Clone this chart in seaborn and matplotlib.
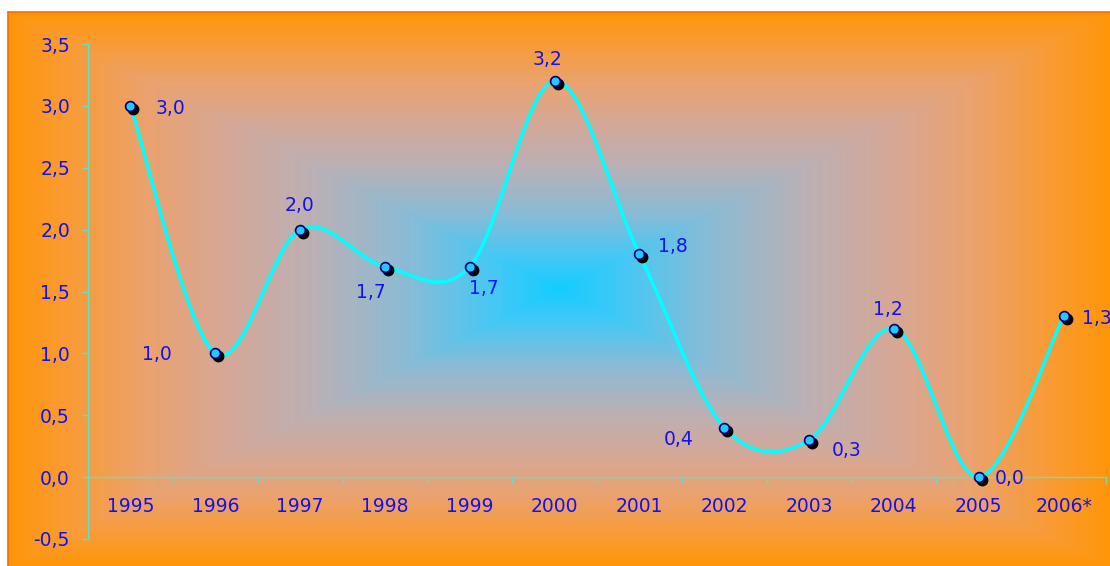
import numpy as np
import pandas as pd
import matplotlib
matplotlib.use("Agg")
import matplotlib.pyplot as plt
from matplotlib.colors import LinearSegmentedColormap
from matplotlib.transforms import offset_copy
import seaborn as sns

# ---------------- data ----------------
years = ["1995", "1996", "1997", "1998", "1999", "2000",
         "2001", "2002", "2003", "2004", "2005", "2006*"]
values = [3.0, 1.0, 2.0, 1.7, 1.7, 3.2, 1.8, 0.4, 0.3, 1.2, 0.0, 1.3]
y_ticks = [-0.5, 0.0, 0.5, 1.0, 1.5, 2.0, 2.5, 3.0, 3.5]

# label offsets (pixels) - style only
label_offsets = [(40, -3), (-58, -1), (-1, 24), (-14, -26), (14, -22), (-7, 22),
                 (33, 8), (-46, -12), (38, -11), (-6, 19), (31, -1), (33, -2)]

sns.set_style("white")
plt.rcParams["font.family"] = ["DejaVu Sans"]

W, H, DPI = 1110, 566, 100
fig = plt.figure(figsize=(W / DPI, H / DPI), dpi=DPI, facecolor="white")

# ---------------- background gradient (chart area) ----------------
x0, ytop = 8, 12
bg = fig.add_axes([x0 / W, 0, (W - x0) / W, (H - ytop) / H])
bw, bh = W - x0, H - ytop
xx = np.abs(np.linspace(-1, 1, bw))[None, :]
yy = np.abs(np.linspace(-1, 1, bh))[:, None]
t = np.maximum(xx, yy)
stops = [(0.0, (20, 205, 255)), (0.12, (70, 200, 245)), (0.28, (140, 187, 212)),
         (0.45, (188, 176, 180)), (0.6, (213, 168, 152)), (0.75, (235, 162, 110)),
         (0.9, (250, 155, 50)), (1.0, (255, 150, 10))]
cmap = LinearSegmentedColormap.from_list(
    "grad", [(p, tuple(c / 255 for c in col)) for p, col in stops])
bg.imshow(t, cmap=cmap, vmin=0, vmax=1, aspect="auto", interpolation="bilinear")
bg.set_axis_off()
# border lines (left and top)
fig.add_artist(plt.Line2D([x0 / W, x0 / W], [0, (H - ytop) / H], color="#FF6A00", lw=1.2))
fig.add_artist(plt.Line2D([x0 / W, 1], [(H - ytop) / H, (H - ytop) / H], color="#FF6A00", lw=1.2))

# ---------------- main axes ----------------
ax = fig.add_axes([88 / W, (H - 539) / H, 1018 / W, 495 / H])
ax.patch.set_alpha(0)
ax.set_xlim(-0.5, 11.5)
ax.set_ylim(-0.5, 3.5)

# smooth curve (Catmull-Rom / Bezier, as Excel smoothing)
xs = np.arange(len(values), dtype=float)
ys = np.array(values, dtype=float)
P = np.column_stack([xs, ys])
Pext = np.vstack([P[0], P, P[-1]])
curve = []
tt = np.linspace(0, 1, 40)[:, None]
for i in range(len(P) - 1):
    p0, p1, p2, p3 = Pext[i], Pext[i + 1], Pext[i + 2], Pext[i + 3]
    c1 = p1 + (p2 - p0) / 6
    c2 = p2 - (p3 - p1) / 6
    seg = ((1 - tt) ** 3) * p1 + 3 * ((1 - tt) ** 2) * tt * c1 + 3 * (1 - tt) * tt ** 2 * c2 + tt ** 3 * p2
    curve.append(seg if i == 0 else seg[1:])
curve = np.vstack(curve)
df_curve = pd.DataFrame({"x": curve[:, 0], "y": curve[:, 1]})
sns.lineplot(data=df_curve, x="x", y="y", ax=ax, sort=False, estimator=None,
             color="#00FFFF", lw=2.6, zorder=2)

df = pd.DataFrame({"x": xs, "y": ys})
shadow_tr = offset_copy(ax.transData, fig=fig, x=3, y=-3, units="dots")
ax.plot(xs, ys, ls="none", marker="o", ms=7.5, color="black", transform=shadow_tr, zorder=3)
sns.scatterplot(data=df, x="x", y="y", ax=ax, s=50, color="#22C8FF",
                edgecolor="#000070", linewidth=1.2, zorder=4)

lab_color = "#1212EE"
fs = 13.5
for i, v in enumerate(values):
    dx, dy = label_offsets[i]
    ax.annotate(f"{v:.1f}".replace(".", ","), (xs[i], ys[i]), xytext=(dx, dy),
                textcoords="offset pixels", ha="center", va="center",
                fontsize=fs, color=lab_color, zorder=5, annotation_clip=False)

# axes styling
spine_col = "#5EE2CC"
for s in ["top", "right"]:
    ax.spines[s].set_visible(False)
ax.spines["left"].set_color(spine_col)
ax.spines["bottom"].set_color(spine_col)
ax.spines["left"].set_linewidth(1.0)
ax.spines["bottom"].set_linewidth(1.0)
ax.spines["bottom"].set_position(("data", 0))

ax.set_yticks(y_ticks)
ax.set_yticklabels([f"{v:.1f}".replace(".", ",") for v in y_ticks])
ax.set_xticks(np.arange(-0.5, len(years), 1.0))
ax.set_xticklabels([])
ax.set_xticks(np.arange(len(years)), minor=True)
ax.set_xticklabels(years, minor=True)
ax.tick_params(axis="y", which="major", direction="out", length=4.5, width=1,
               color=spine_col, pad=8.5, labelsize=fs, labelcolor=lab_color, left=True)
ax.tick_params(axis="x", which="major", direction="out", length=4.5, width=1,
               color=spine_col, bottom=True)
ax.tick_params(axis="x", which="minor", length=0, pad=14, labelsize=fs,
               labelcolor=lab_color, bottom=True)
ax.set_xlabel("")
ax.set_ylabel("")

fig.savefig("out.png", dpi=DPI, facecolor="white")
